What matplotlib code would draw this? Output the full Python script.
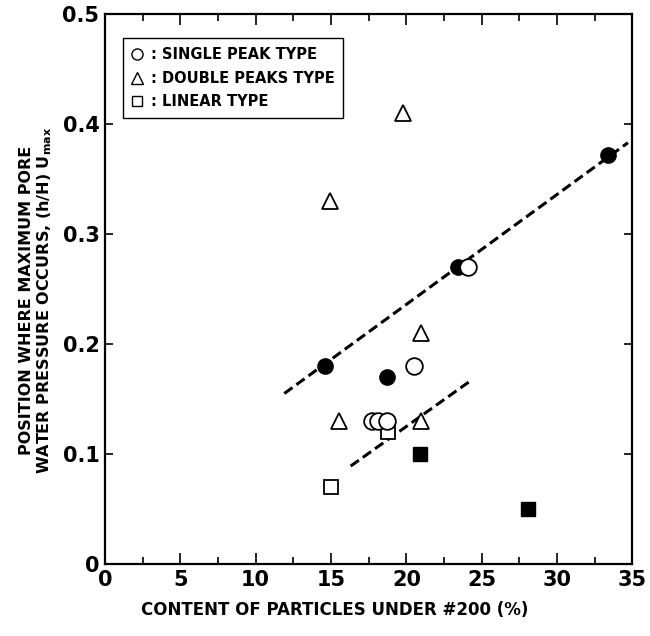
import numpy as np
import matplotlib
matplotlib.use("Agg")
import matplotlib.pyplot as plt
from matplotlib.lines import Line2D

# data
single_x = [17.7, 18.1, 18.7, 20.5, 24.1]
single_y = [0.13, 0.13, 0.13, 0.18, 0.27]
single_fill_x = [14.6, 18.7, 23.4, 33.4]
single_fill_y = [0.18, 0.17, 0.27, 0.372]
double_x = [14.9, 19.8, 21.0, 15.5, 21.0]
double_y = [0.33, 0.41, 0.21, 0.13, 0.13]
linear_x = [15.0, 18.8]
linear_y = [0.07, 0.12]
linear_fill_x = [20.9, 28.1]
linear_fill_y = [0.10, 0.05]
upper_x = [11.9, 34.7]
upper_y = [0.155, 0.383]
lower_x = [16.3, 24.2]
lower_y = [0.089, 0.166]

xticks = [0, 5, 10, 15, 20, 25, 30, 35]
yticks = [0, 0.1, 0.2, 0.3, 0.4, 0.5]
ytick_labels = ["0", "0.1", "0.2", "0.3", "0.4", "0.5"]

plt.rcParams['font.family'] = ['DejaVu Sans']
plt.rcParams['font.weight'] = 'bold'
plt.rcParams['mathtext.fontset'] = 'dejavusans'

fig = plt.figure(figsize=(6.5, 6.36), dpi=100)
ax = fig.add_axes([0.1615, 0.1132, 0.8115, 0.8648])

# dashed trend lines
ax.plot(upper_x, upper_y, color='black', lw=2.2, dashes=(3.3, 1.6), zorder=2)
ax.plot(lower_x, lower_y, color='black', lw=2.2, dashes=(3.3, 1.6), zorder=2)

ax.plot(linear_x, linear_y, ls='none', marker='s', ms=10, mfc='white', mec='black', mew=1.3, zorder=3)
ax.plot(linear_fill_x, linear_fill_y, ls='none', marker='s', ms=10, mfc='black', mec='black', zorder=3)
ax.plot(double_x, double_y, ls='none', marker='^', ms=12, mfc='white', mec='black', mew=1.3, zorder=3)
ax.plot(single_fill_x, single_fill_y, ls='none', marker='o', ms=11, mfc='black', mec='black', zorder=4)
for x, y in zip(single_x, single_y):
    ax.plot([x], [y], ls='none', marker='o', ms=12, mfc='white', mec='black', mew=1.3, zorder=5)

ax.set_xlim(0, 35)
ax.set_ylim(0, 0.5)
ax.set_xticks(xticks)
ax.set_xticks(np.arange(2.5, 35, 5), minor=True)
ax.set_yticks(yticks)
ax.set_yticklabels(ytick_labels)
ax.tick_params(which='both', direction='in', top=True, right=True, labelsize=15, width=1.2)
ax.tick_params(axis='x', which='major', length=8, pad=4)
ax.tick_params(axis='x', which='minor', length=5)
ax.tick_params(axis='y', which='major', length=6, pad=4)
for s in ax.spines.values():
    s.set_linewidth(1.6)

ax.set_xlabel("CONTENT OF PARTICLES UNDER #200 (%)", fontsize=12, fontweight='bold', va='center')
ax.xaxis.set_label_coords(0.436, -0.084)
ax.set_ylabel("POSITION WHERE MAXIMUM PORE\nWATER PRESSURE OCCURS, (h/H) U$_{\\mathbf{max}}$",
              fontsize=11.5, fontweight='bold', va='center', ha='center', multialignment='center',
              linespacing=1.1)
ax.yaxis.set_label_coords(-0.13, 0.48)

handles = [
    Line2D([], [], ls='none', marker='o', ms=8, mfc='white', mec='black', mew=1.0),
    Line2D([], [], ls='none', marker='^', ms=8, mfc='white', mec='black', mew=1.0),
    Line2D([], [], ls='none', marker='s', ms=7.5, mfc='white', mec='black', mew=1.0),
]
labels = [": SINGLE PEAK TYPE", ": DOUBLE PEAKS TYPE", ": LINEAR TYPE"]
leg = ax.legend(handles, labels, loc='upper left', bbox_to_anchor=(0.034, 0.956),
                borderaxespad=0, fancybox=False, edgecolor='black', framealpha=1,
                prop={'size': 10.5, 'weight': 'bold'}, handlelength=0.8, handletextpad=0.5,
                labelspacing=0.6, borderpad=0.6)
leg.get_frame().set_linewidth(1.0)

fig.savefig("out.png", dpi=100)
